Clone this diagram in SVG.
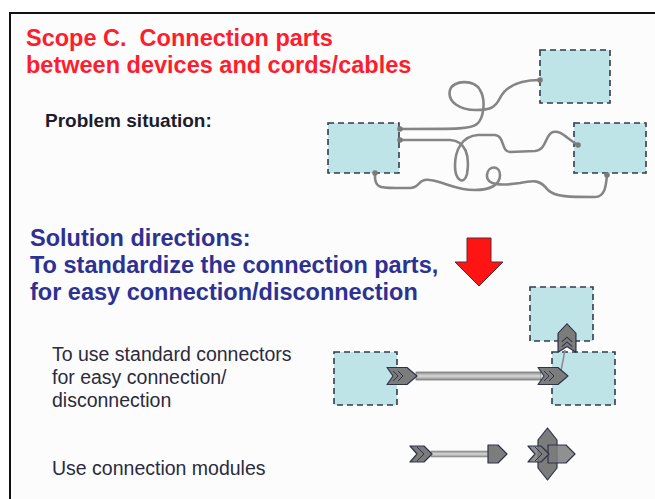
<svg xmlns="http://www.w3.org/2000/svg" width="655" height="499" viewBox="0 0 655 499">
  <style>
    .title { font-family: "Liberation Sans", Arial, sans-serif; font-weight: bold; font-size: 23.5px; fill: #ff1c2c; white-space: pre; }
    .sol { font-family: "Liberation Sans", Arial, sans-serif; font-weight: bold; font-size: 23.5px; fill: #2d3192; }
    .lbl { font-family: "Liberation Sans", Arial, sans-serif; font-size: 19.5px; fill: #2b2a40; }
    .lblb { font-family: "Liberation Sans", Arial, sans-serif; font-weight: bold; font-size: 19px; fill: #1c1c2c; }
    .box { fill: #bfe4e8; stroke: #333a4c; stroke-width: 1.6; stroke-dasharray: 6 4; }
    .cable { fill: none; stroke: #858585; stroke-width: 2.6; stroke-linecap: round; stroke-linejoin: round; }
    .end { fill: #7a7a7a; }
    .part { fill: #7c7c7c; stroke: #2f334a; stroke-width: 1.2; stroke-linejoin: round; }
    .notch { fill: none; stroke: #2f334a; stroke-width: 1; }
  </style>
  <defs>
    <!-- plug: notched back, pointed nose, pointing right -->
    <g id="plug">
      <path class="part" d="M-15,-8.5 L5,-8.5 L15,0 L5,8.5 L-15,8.5 L-9,0 Z"/>
      <polyline class="notch" points="-9,-5 -4,0 -9,5"/>
      <polyline class="notch" points="-4,-5 1,0 -4,5"/>
    </g>
    <linearGradient id="bar" x1="0" y1="0" x2="0" y2="1">
      <stop offset="0" stop-color="#8a8a8a"/>
      <stop offset="0.5" stop-color="#d8d8d8"/>
      <stop offset="1" stop-color="#8a8a8a"/>
    </linearGradient>
  </defs>

  <rect x="0" y="0" width="655" height="499" fill="#ffffff"/>
  <rect x="10" y="13" width="645" height="486" fill="#fcfcfc"/>
  <!-- frame -->
  <path d="M10,499 L10,13 L655,13" fill="none" stroke="#111" stroke-width="2"/>

  <!-- headings -->
  <text class="title" x="26" y="46">Scope C.  Connection parts</text>
  <text class="title" x="26" y="73">between devices and cords/cables</text>
  <text class="lblb" x="45" y="127">Problem situation:</text>

  <text class="sol" x="30" y="246">Solution directions:</text>
  <text class="sol" x="30" y="273">To standardize the connection parts,</text>
  <text class="sol" x="30" y="300">for easy connection/disconnection</text>

  <text class="lbl" x="52" y="361">To use standard connectors</text>
  <text class="lbl" x="52" y="384">for easy connection/</text>
  <text class="lbl" x="52" y="407">disconnection</text>
  <text class="lbl" x="52" y="475">Use connection modules</text>

  <!-- red arrow -->
  <path d="M467,238 L491,238 L491,262 L503,262 L479,286 L455,262 L467,262 Z" fill="#ff1414" stroke="#5a2a30" stroke-width="1"/>

  <!-- problem situation: devices -->
  <g id="dev-top"><rect class="box" x="540" y="50" width="70" height="53"/></g>
  <g id="dev-left"><rect class="box" x="328" y="123" width="71" height="50"/></g>
  <g id="dev-right"><rect class="box" x="574" y="123" width="72" height="50"/></g>

  <!-- tangled cords -->
  <g id="cords">
    <path class="cable" d="M540,80 C518,80 506,86 500,98 C495,108 490,110 476,110 C460,110 447,102 450,90 C453,80 474,79 480,90 C486,100 484,118 477,124 C471,129 460,129 400,129"/>
    <path class="cable" d="M578,145 C566,138 561,130 553,132 C545,134 547,150 535,151 L510,152 C501,152 505,136 495,135 L478,135 C462,136 455,150 455,166 C455,180 464,186 467,174 C470,156 466,141 450,140 L400,140"/>
    <path class="cable" d="M375,173 C374,188 380,188 395,188 L410,188 C420,188 418,178 430,180 C445,182 455,190 475,190 C490,190 500,185 500,175 C500,165 488,165 487,175 C486,185 500,186 520,183 C535,180 540,180 548,190 C555,197 570,197 595,197 C605,197 606,186 607,175"/>
    <circle class="end" cx="540" cy="80" r="2.8"/>
    <circle class="end" cx="400" cy="129" r="2.8"/>
    <circle class="end" cx="400" cy="140" r="2.8"/>
    <circle class="end" cx="578" cy="145" r="2.8"/>
    <circle class="end" cx="375" cy="173" r="2.8"/>
    <circle class="end" cx="607" cy="175" r="2.8"/>
  </g>

  <!-- solution: devices with standard connectors -->
  <g id="sol-top"><rect class="box" x="530" y="287" width="63" height="54"/></g>
  <g id="sol-left"><rect class="box" x="334" y="352" width="63" height="53"/></g>
  <g id="sol-right"><rect class="box" x="552" y="352" width="63" height="53"/></g>

  <g id="connectors">
    <rect x="416" y="372" width="125" height="8" fill="url(#bar)" stroke="#7a7a7a" stroke-width="0.8"/>
    <line x1="560" y1="376" x2="565" y2="350" stroke="#8a8a8a" stroke-width="1.5"/>
    <use href="#plug" transform="translate(402,376)"/>
    <use href="#plug" transform="translate(553,376)"/>
    <use href="#plug" transform="translate(567,338) rotate(-90) scale(0.95,1.05)"/>
  </g>

  <!-- connection modules -->
  <g id="module-cord">
    <rect x="431" y="451" width="58" height="6" fill="url(#bar)" stroke="#8a8a8a" stroke-width="0.6"/>
    <path class="part" d="M410,446 L424,446 L432,454 L424,462 L410,462 L417,454 Z"/>
    <polyline class="notch" points="417,447 424,454 417,461"/>
    <path class="part" d="M488,445 L498,445 L507,454 L498,463 L488,463 Z"/>
  </g>
  <g id="module-cross">
    <path class="part" d="M547.5,428 L557,440 L557,468 L547.5,480 L538,468 L538,440 Z"/>
    <path class="part" d="M548,445 L566,445 L575,454 L566,463 L548,463 Z" fill-opacity="0.85"/>
    <path class="part" d="M528,446 L541,446 L549,454 L541,462 L528,462 L535,454 Z" fill-opacity="0.85"/>
    <polyline class="notch" points="535,447 542,454 535,461"/>
  </g>
</svg>
